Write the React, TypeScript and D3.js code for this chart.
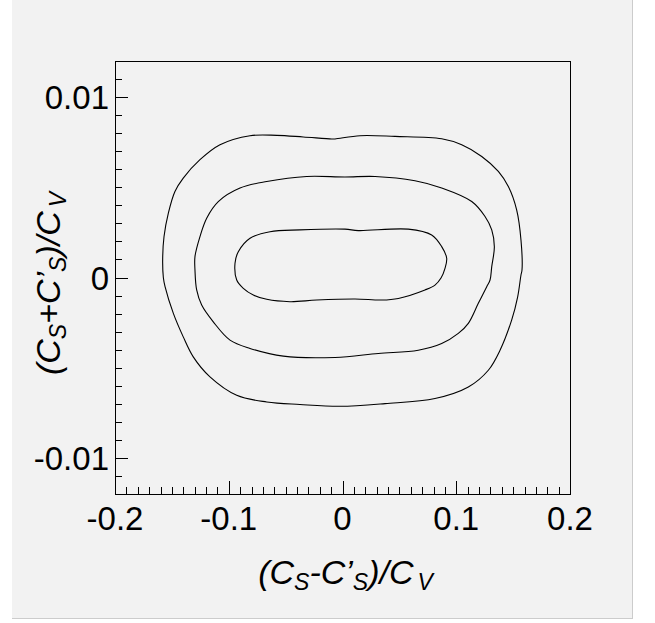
import React from "react";
import * as d3 from "d3";

// Contour levels (closed curves), points in data units [x, y]
const outerContour: [number, number][] = [
  [-0.1575, 0.0], [-0.1581, 0.00097], [-0.1569, 0.00227], [-0.1531, 0.00357], [-0.1473, 0.00477],
  [-0.14, 0.00551], [-0.1253, 0.00653], [-0.1077, 0.00736], [-0.0813, 0.00786], [-0.0578, 0.00788],
  [-0.0345, 0.00779], [-0.0095, 0.00768], [-0.0066, 0.00768], [0.0154, 0.00786], [0.0462, 0.00782],
  [0.0872, 0.00769], [0.1048, 0.00736], [0.1224, 0.00671], [0.137, 0.00588], [0.1458, 0.00504],
  [0.1531, 0.00375], [0.1569, 0.00208], [0.1578, 0.00042], [0.1569, 0.00014], [0.154, -0.00107],
  [0.1487, -0.00236], [0.1385, -0.00403], [0.1282, -0.00514], [0.1106, -0.00607], [0.0813, -0.00671],
  [0.0374, -0.00699], [-0.0022, -0.00714], [-0.0374, -0.00704], [-0.0666, -0.0069], [-0.093, -0.00653],
  [-0.1165, -0.00551], [-0.1312, -0.0044], [-0.14, -0.00329], [-0.1487, -0.00199], [-0.156, -0.00051],
];

const middleContour: [number, number][] = [
  [-0.1297, 0.00042], [-0.1297, 0.00116], [-0.1253, 0.00227], [-0.1194, 0.00329], [-0.1092, 0.00421],
  [-0.0901, 0.00496], [-0.0666, 0.00532], [-0.0315, 0.0056], [0.0022, 0.00557], [0.0286, 0.0056],
  [0.0637, 0.00536], [0.0872, 0.00496], [0.1136, 0.00421], [0.1253, 0.00338], [0.1312, 0.00264],
  [0.1335, 0.00171], [0.1312, 0.0006], [0.1297, -0.00014], [0.1268, -0.00051], [0.1194, -0.00143],
  [0.1106, -0.00254], [0.1018, -0.0031], [0.0872, -0.00366], [0.0666, -0.00403], [0.0315, -0.00421],
  [-0.0066, -0.00443], [-0.052, -0.00436], [-0.0813, -0.00393], [-0.0989, -0.00347], [-0.1136, -0.00246],
  [-0.1238, -0.00153], [-0.1282, -0.00069],
];

const innerContour: [number, number][] = [
  [-0.093, -0.00014], [-0.0945, 0.00079], [-0.0916, 0.00143], [-0.0813, 0.00218], [-0.0637, 0.00254],
  [-0.0374, 0.00264], [0.0022, 0.00268], [0.0139, 0.0026], [0.0578, 0.00268], [0.0784, 0.00236],
  [0.0872, 0.00171], [0.0916, 0.00107], [0.0901, 0.00051], [0.0866, -0.00003], [0.0813, -0.00042],
  [0.0725, -0.00069], [0.0491, -0.00116], [0.0345, -0.00125], [0.011, -0.00119], [-0.0227, -0.00125],
  [-0.0462, -0.00134], [-0.0666, -0.00121], [-0.0784, -0.00097], [-0.0872, -0.0006],
];

const contours = [outerContour, middleContour, innerContour];

const xDomain: [number, number] = [-0.2, 0.2];
const yDomain: [number, number] = [-0.012, 0.012];
const xMajorTicks = [-0.2, -0.1, 0, 0.1, 0.2];
const xTickLabels = ["-0.2", "-0.1", "0", "0.1", "0.2"];
const yMajorTicks = [-0.01, 0, 0.01];
const yTickLabels = ["-0.01", "0", "0.01"];

const FONT = "'Liberation Sans', Arial, Helvetica, sans-serif";

export default function App() {
  const W = 655, H = 623;
  const canvas = { x0: 12, y0: 0, x1: 632, y1: 618 };
  const frame = { left: 115, right: 570, top: 61, bottom: 494 };

  const x = d3.scaleLinear().domain(xDomain).range([frame.left, frame.right]);
  const y = d3.scaleLinear().domain(yDomain).range([frame.bottom, frame.top]);

  const xMinor = d3.range(-20, 21).map((i) => i * 0.01);
  const yMinor = d3.range(-12, 13).map((i) => i * 0.001);

  const line = d3
    .line<[number, number]>()
    .x((d) => x(d[0]))
    .y((d) => y(d[1]))
    .curve(d3.curveCatmullRomClosed.alpha(0.5));

  const labelSize = 33;
  const titleSize = 34;
  const subSize = 23;

  return (
    <svg
      width={W}
      height={H}
      style={{ position: "absolute", left: 0, top: 0 }}
      fontFamily={FONT}
    >
      <rect x={0} y={0} width={W} height={H} fill="#ffffff" />
      <rect x={canvas.x0} y={canvas.y0} width={canvas.x1 - canvas.x0} height={canvas.y1 - canvas.y0} fill="#f2f2f2" />
      <line x1={canvas.x1 + 0.5} x2={canvas.x1 + 0.5} y1={canvas.y0} y2={canvas.y1 + 1} stroke="#cccccc" />
      <line x1={canvas.x0} x2={canvas.x1 + 1} y1={canvas.y1 + 0.5} y2={canvas.y1 + 0.5} stroke="#cccccc" />

      {/* contours */}
      <g fill="none" stroke="#000" strokeWidth={1.1}>
        {contours.map((c, i) => (
          <path key={i} d={line(c) || ""} />
        ))}
      </g>

      {/* ticks */}
      <g stroke="#000" strokeWidth={1}>
        {xMinor.map((v, i) => {
          const px = Math.round(x(v)) + 0.5;
          const major = i % 10 === 0;
          return <line key={"xm" + i} x1={px} x2={px} y1={frame.bottom} y2={frame.bottom - (major ? 13 : 7)} />;
        })}
        {yMinor.map((v, i) => {
          const py = Math.round(y(v)) + 0.5;
          const major = i % 10 === 2;
          return <line key={"ym" + i} x1={frame.left} x2={frame.left + (major ? 13 : 7)} y1={py} y2={py} />;
        })}
      </g>

      {/* frame */}
      <rect
        x={frame.left + 0.5}
        y={frame.top + 0.5}
        width={frame.right - frame.left}
        height={frame.bottom - frame.top}
        fill="none"
        stroke="#000"
        strokeWidth={1}
      />

      {/* tick labels */}
      <g fontSize={labelSize} fill="#000">
        {xMajorTicks.map((v, i) => (
          <text key={"xl" + i} x={x(v)} y={frame.bottom + 36} textAnchor="middle">
            {xTickLabels[i]}
          </text>
        ))}
        {yMajorTicks.map((v, i) => (
          <text key={"yl" + i} x={frame.left - 6} y={y(v) + 12} textAnchor="end">
            {yTickLabels[i]}
          </text>
        ))}
      </g>

      {/* x title */}
      <text x={(frame.left + frame.right) / 2 + 3} y={584} textAnchor="middle" fontSize={titleSize} fontStyle="italic">
        (C<tspan fontSize={subSize} dy={6}>S</tspan>
        <tspan dy={-6}>-C’</tspan>
        <tspan fontSize={subSize} dy={6}>S</tspan>
        <tspan dy={-6}>)/C</tspan>
        <tspan fontSize={subSize} dy={6} dx={4}>V</tspan>
      </text>

      {/* y title */}
      <text
        transform={`translate(60, ${(frame.top + frame.bottom) / 2 + 6}) rotate(-90)`}
        textAnchor="middle"
        fontSize={titleSize}
        fontStyle="italic"
      >
        (C<tspan fontSize={subSize} dy={6}>S</tspan>
        <tspan dy={-6}>+C’</tspan>
        <tspan fontSize={subSize} dy={6}>S</tspan>
        <tspan dy={-6}>)/C</tspan>
        <tspan fontSize={subSize} dy={6} dx={4}>V</tspan>
      </text>
    </svg>
  );
}
